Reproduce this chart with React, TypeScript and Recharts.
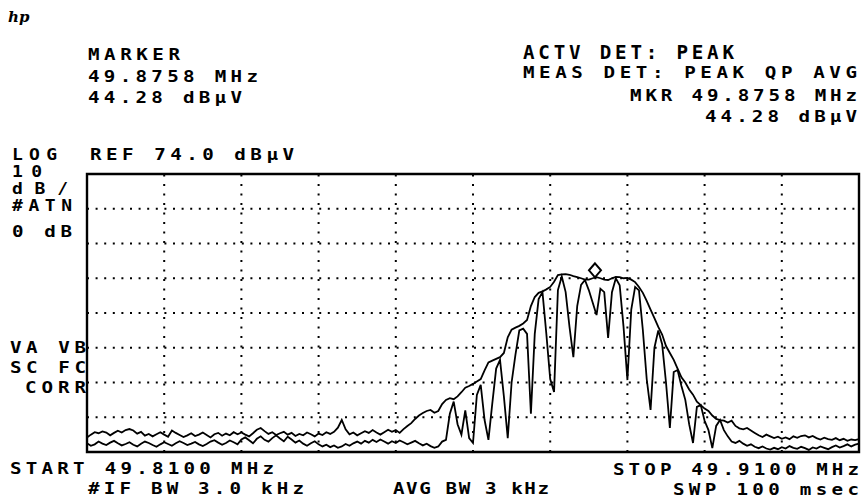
import React from "react";
import {
  Line,
  LineChart,
  ReferenceArea,
  ReferenceDot,
  ReferenceLine,
  XAxis,
  YAxis,
} from "recharts";

// sweep 49.8100 .. 49.9100 MHz, one reading every 0.5 kHz
const FREQ_START = 49.81;
const FREQ_STEP = 0.0005;
const FREQ_TICKS = [49.81, 49.82, 49.83, 49.84, 49.85, 49.86, 49.87, 49.88, 49.89, 49.9, 49.91];
const LEVEL_TICKS = [-6, 4, 14, 24, 34, 44, 54, 64, 74];

// dBuV, upper (peak hold) trace
const PEAK_TRACE = [
  -1.8, -1.0, -0.3, -0.6, -0.1, -0.4, -1.2, -0.5, 0.1, -0.4,
  0.3, 0.6, 0.2, -0.7, -0.2, -1.3, -0.8, -1.5, -0.9, -0.3,
  -1.0, -1.6, 0.2, -0.5, -1.1, -1.7, -1.2, -0.6, -1.4, -1.0,
  -0.4, -1.1, -1.8, -0.9, -0.5, -1.3, -0.7, -1.2, -0.3, -0.9,
  -0.4, -1.0, -1.5, -0.6, 0.4, 0.9, 0.0, -0.8, -0.3, -1.1,
  -0.6, -0.2, -1.0, -0.5, -1.4, -0.8, -1.2, -0.4, -0.9, -1.5,
  -0.7, -1.1, -0.3, -0.8, -0.2, 1.0, 3.2, 0.5, -0.9, -0.4,
  -1.2, -0.6, 0.0, -0.5, 0.3, -0.4, -1.0, -0.3, 0.4, -0.2,
  0.3, -0.5, 0.6, 1.5, 2.3, 3.5, 4.5, 5.2, 5.8, 6.1,
  5.3, 5.8, 7.8, 9.0, 9.5, 9.2, 10.0, 11.2, 12.5, 13.0,
  13.6, 14.3, 15.0, 17.5, 19.8, 20.3, 20.8, 21.3, 22.5, 27.0,
  29.2, 29.8, 30.3, 31.0, 32.0, 36.0, 38.6, 39.8, 40.2, 40.8,
  41.5, 43.0, 44.9, 45.1, 45.2, 45.0, 44.6, 44.3, 44.0, 43.6,
  43.6, 44.0, 44.3, 44.0, 43.6, 43.5, 44.0, 44.4, 44.3, 44.0,
  44.1, 43.6, 42.9, 41.5, 39.8, 37.5, 35.0, 32.5, 30.0, 27.8,
  24.5, 22.5, 20.5, 18.0, 15.5, 14.0, 12.0, 10.5, 8.5, 7.5,
  6.5, 5.8, 4.5, 3.5, 3.2, 3.0, 2.5, 3.0, 1.5, 0.8,
  0.5, 0.9, 0.2, -0.5, -1.2, -1.7, -1.0, -1.5, -2.0, -1.6,
  -2.2, -1.8, -2.3, -1.5, -1.9, -1.4, -1.2, -1.8, -1.4, -2.0,
  -2.4, -1.9, -2.3, -2.5, -2.0, -2.6, -2.2, -2.8, -2.4, -2.6, -2.3,
];

// dBuV, lower trace with the deep notches
const NOTCH_TRACE = [
  -3.5, -4.2, -3.8, -3.0, -3.6, -4.0, -3.3, -2.8, -3.5, -4.1,
  -3.7, -3.2, -3.9, -4.4, -3.6, -3.0, -3.4, -4.0, -4.5, -3.8,
  -3.2, -3.7, -4.2, -3.5, -2.9, -3.4, -4.0, -3.6, -3.1, -3.8,
  -4.3, -3.7, -3.0, -2.6, -3.3, -3.9, -3.4, -2.7, -3.2, -3.8,
  -2.4, -1.8, -2.6, -3.5, -2.2, -1.5, -2.5, -3.0, -2.0, -1.2,
  -2.1, -2.9, -1.6, -2.4, -3.3, -2.7, -3.6, -4.2, -3.5, -2.9,
  -3.8, -4.4, -3.9, -4.6, -4.1, -4.8, -4.4, -3.7, -4.2, -3.5,
  -3.0, -3.6, -2.8, -3.3, -2.5, -3.1, -2.4, -3.0, -3.6, -2.9,
  -3.4, -2.7, -3.2, -3.8, -3.3, -2.8, -3.5, -4.1, -3.6, -4.3,
  -4.8, -4.4, -3.0, -2.5, 5.0, 8.5, 2.0, -1.0, 6.0, -2.0,
  -3.4, 10.4, 13.3, 3.2, -2.5, 8.0, 18.0, 20.5, 10.0, -2.0,
  14.0, 22.0, 29.0, 29.5, 28.0, 5.0, 28.0, 38.0, 40.0, 28.0,
  15.0, 11.3, 40.6, 44.5, 40.0, 30.0, 21.3, 36.0, 42.1, 43.5,
  40.6, 37.0, 33.4, 41.0, 40.0, 26.8, 40.0, 44.0, 42.0, 30.0,
  14.7, 35.0, 41.5, 40.5, 29.1, 15.0, 6.1, 24.0, 29.0, 25.0,
  14.0, 0.9, 17.0, 17.6, 13.0, 9.0, 2.0, -3.4, 7.0, 7.5,
  3.0, 0.3, -4.9, 1.5, 3.2, 0.3, -1.5, -3.0, -3.4, -2.8,
  -3.6, -4.2, -3.8, -4.5, -4.9, -4.4, -5.0, -5.3, -4.8, -5.2,
  -4.6, -5.0, -4.3, -4.8, -5.1, -4.5, -4.9, -5.4, -4.7, -5.0,
  -4.4, -4.8, -5.2, -4.6, -4.1, -4.7, -4.3, -3.8, -4.4, -3.9, -3.6,
];

const MARKER_FREQ = 49.8758;
const MARKER_LEVEL = 44.28;

const data = PEAK_TRACE.map((v, i) => ({
  f: +(FREQ_START + i * FREQ_STEP).toFixed(4),
  peak: v,
  notch: NOTCH_TRACE[i],
}));

const FONT = '"DejaVu Sans Mono", "Liberation Mono", monospace';
const SX = 1.2; // plotter glyphs are wider than DejaVu's

// x = left edge, w = overall width, y = baseline
type Label = { text: string; x: number; y: number; w: number; tall?: boolean; size?: number };

const LABELS: Label[] = [
  { text: "MARKER", x: 88, y: 60, w: 92 },
  { text: "49.8758 MHz", x: 88, y: 82, w: 170 },
  { text: "44.28 dBµV", x: 88, y: 103, w: 154 },
  { text: "ACTV DET: PEAK", x: 523, y: 59, w: 211, tall: true },
  { text: "MEAS DET: PEAK QP AVG", x: 523, y: 78, w: 334 },
  { text: "MKR 49.8758 MHz", x: 630, y: 101, w: 227 },
  { text: "44.28 dBµV", x: 705, y: 122, w: 152 },
  { text: "LOG", x: 12, y: 160, w: 45, size: 15 },
  { text: "REF 74.0 dBµV", x: 90, y: 160, w: 204 },
  { text: "10", x: 12, y: 177, w: 30, size: 15 },
  { text: "dB/", x: 12, y: 194, w: 56, size: 15 },
  { text: "#ATN", x: 12, y: 211, w: 60, size: 15 },
  { text: "0 dB", x: 12, y: 237, w: 60 },
  { text: "VA VB", x: 10, y: 353, w: 76 },
  { text: "SC FC", x: 10, y: 373, w: 76 },
  { text: "CORR", x: 25, y: 393, w: 61 },
  { text: "START 49.8100 MHz", x: 10, y: 474, w: 264 },
  { text: "#IF BW 3.0 kHz", x: 88, y: 494, w: 216 },
  { text: "AVG BW 3 kHz", x: 393, y: 494, w: 156 },
  { text: "STOP 49.9100 MHz", x: 613, y: 475, w: 246 },
  { text: "SWP 100 msec", x: 673, y: 495, w: 186 },
];

function Diamond(props: any) {
  const { cx, cy } = props;
  if (cx == null || cy == null) return null;
  const mid = cy - 7;
  return (
    <path
      d={`M${cx} ${mid - 7} L${cx + 6} ${mid} L${cx} ${mid + 7} L${cx - 6} ${mid} Z`}
      fill="#fff"
      stroke="#000"
      strokeWidth={2}
    />
  );
}

export default function App() {
  return (
    <div
      style={{
        position: "absolute",
        left: 0,
        top: 0,
        width: 861,
        height: 500,
        background: "#fff",
        overflow: "hidden",
      }}
    >
      <LineChart
        width={861}
        height={500}
        data={data}
        margin={{ top: 174, right: 2, bottom: 48, left: 87 }}
      >
        <XAxis
          dataKey="f"
          type="number"
          domain={[49.81, 49.91]}
          ticks={FREQ_TICKS}
          height={0}
          tick={false}
          axisLine={false}
          tickLine={false}
        />
        <YAxis
          type="number"
          domain={[-6, 74]}
          ticks={LEVEL_TICKS}
          width={0}
          tick={false}
          axisLine={false}
          tickLine={false}
        />
        {FREQ_TICKS.slice(1, -1).map((t) => (
          <ReferenceLine
            key={"v" + t}
            x={t}
            stroke="#000"
            strokeWidth={2}
            strokeDasharray="2 7.5"
          />
        ))}
        {LEVEL_TICKS.slice(1, -1).map((t) => (
          <ReferenceLine
            key={"h" + t}
            y={t}
            stroke="#000"
            strokeWidth={2}
            strokeDasharray="2 6.6"
          />
        ))}
        <ReferenceArea
          x1={49.81}
          x2={49.91}
          y1={-6}
          y2={74}
          fill="none"
          fillOpacity={0}
          stroke="#000"
          strokeWidth={2.4}
        />
        <Line
          dataKey="notch"
          type="linear"
          stroke="#000"
          strokeWidth={1.8}
          dot={false}
          isAnimationActive={false}
        />
        <Line
          dataKey="peak"
          type="linear"
          stroke="#000"
          strokeWidth={1.8}
          dot={false}
          isAnimationActive={false}
        />
        <ReferenceDot x={MARKER_FREQ} y={MARKER_LEVEL} r={6} shape={Diamond} />
      </LineChart>
      <svg
        width={861}
        height={500}
        style={{ position: "absolute", left: 0, top: 0, pointerEvents: "none" }}
      >
        <text
          x={8}
          y={22}
          fontFamily='"DejaVu Serif", serif'
          fontStyle="italic"
          fontWeight="bold"
          fontSize={15}
          fill="#000"
        >
          hp
        </text>
        {LABELS.map((l) => (
          <text
            key={l.text + l.y}
            transform={`translate(${l.x},${l.y}) scale(${SX},${l.tall ? 1.25 : 1})`}
            textLength={l.w / SX}
            lengthAdjust="spacing"
            fontFamily={FONT}
            fontWeight="bold"
            fontSize={l.size ?? 16}
            fill="#000"
          >
            {l.text}
          </text>
        ))}
      </svg>
    </div>
  );
}
